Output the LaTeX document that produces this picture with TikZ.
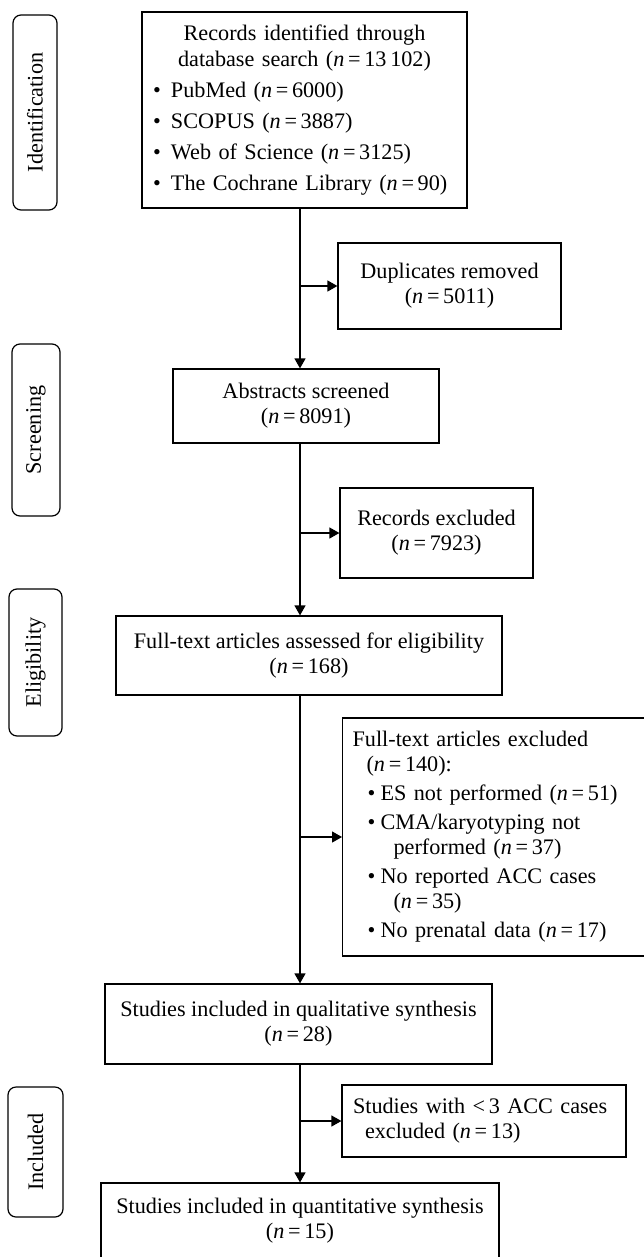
\documentclass[tikz,border=0pt]{standalone}
\usepackage{fontspec}
\setmainfont{Liberation Serif}
\usepackage{tikz}
\usetikzlibrary{positioning}
\usetikzlibrary{arrows.meta}
\newcommand{\nval}[1]{(\textit{n}\,=\,#1)}
\tikzstyle{box}=[draw, line width=0.6pt, inner sep=0pt, align=center,
               font=\fontsize{11.1}{12.5}\selectfont]
\tikzstyle{stage}=[draw, line width=0.6pt, rounded corners=4pt, rotate=90,
               inner sep=0pt, font=\fontsize{11.1}{12.5}\selectfont]
\tikzstyle{flow}=[line width=0.6pt, -{Triangle[length=5pt,width=5.5pt]}]

\begin{document}
\begin{tikzpicture}[x=0.5pt, y=-0.5pt]
\useasboundingbox (0,0) rectangle (643,1257);
\def \bul {\makebox[9pt][l]{\textbullet}}
\def \sbul {\hspace*{7.5pt}\makebox[6.5pt][l]{\textbullet}}
\coordinate (spine) at (300,0); % the main vertical line

% stages on the left
\node[stage, minimum width=97.5pt, minimum height=22pt] at (35,112.5) (ident) {Identification};
\node[stage, minimum width=86pt, minimum height=24pt] at (36,430) (screen) {Screening};
\node[stage, minimum width=73.5pt, minimum height=26.5pt] at (35.5,662.5) (elig) {Eligibility};
\node[stage, minimum width=65pt, minimum height=27.5pt] at (35.5,1152) (incl) {Included};

% main column
\node[box, align=left, text width=151.5pt, inner xsep=5.5pt, minimum height=98pt] at (304.5,110) (recs)
  {{\centering Records identified through\\[0.5pt] database search \nval{13\,102}\par}\vspace{3pt}
   \bul PubMed \nval{6000}\\[3pt]
   \bul SCOPUS \nval{3887}\\[3pt]
   \bul Web of Science \nval{3125}\\[3pt]
   \bul The Cochrane Library \nval{90}};
\node[box, minimum width=133pt, minimum height=37pt] at (306,406) (abs)
  {Abstracts screened\\\nval{8091}};
\node[box, minimum width=193pt, minimum height=39.5pt] at (309,655.5) (full)
  {Full-text articles assessed for eligibility\\\nval{168}};
\node[box, minimum width=193.5pt, minimum height=40pt] at (298.5,1024) (qual)
  {Studies included in qualitative synthesis\\\nval{28}};
\node[box, minimum width=199pt, minimum height=38pt] at (300,1221) (quant)
  {Studies included in quantitative synthesis\\\nval{15}};

% side boxes
\node[box, minimum width=111.5pt, minimum height=43pt] at (449.5,286) (dup)
  {Duplicates removed\\\nval{5011}};
\node[box, minimum width=96.5pt, minimum height=45pt] at (436.5,533) (recex)
  {Records excluded\\\nval{7923}};
\node[box, anchor=west, align=left, text width=180pt, inner xsep=5pt, minimum height=119pt] at (342,837) (ftex)
  {Full-text articles excluded\\
   \hspace*{7pt}\nval{140}:\\[2pt]
   \sbul ES not performed \nval{51}\\[2pt]
   \sbul CMA/karyotyping not\\
   \hspace*{20.5pt}performed \nval{37}\\[2pt]
   \sbul No reported ACC cases\\
   \hspace*{20.5pt}\nval{35}\\[2pt]
   \sbul No prenatal data \nval{17}};
\node[box, align=left, text width=131pt, inner xsep=5.5pt, minimum height=36pt] at (484,1121) (lt3)
  {Studies with <\,3 ACC cases\\
   \hspace*{6pt}excluded \nval{13}};

\foreach \a/\b in {recs/abs,abs/full,full/qual,qual/quant}
  \draw[flow] (spine |- \a.south) -- (spine |- \b.north);
\foreach \b in {dup,recex,ftex,lt3}
  \draw[flow] (spine |- \b.west) -- (\b.west);
\end{tikzpicture}
\end{document}
